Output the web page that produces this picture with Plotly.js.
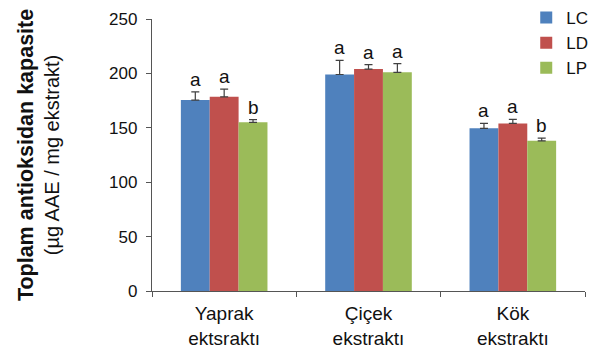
<!DOCTYPE html>
<html>
<head>
<meta charset="utf-8">
<script src="https://cdn.plot.ly/plotly-3.0.1.min.js"></script>
<style>html,body{margin:0;padding:0;background:#fff;}#chart{width:598px;height:350px;}</style>
</head>
<body>
<div id="chart"></div>
<script>
const categories = ["Yaprak<br>ektsraktı", "Çiçek<br>ekstraktı", "Kök<br>ekstraktı"];
const seriesNames = ["LC", "LD", "LP"];
const lcValues = [175.5, 199, 149.5];
const ldValues = [178.5, 204, 154];
const lpValues = [155, 201, 138];
const lcErrors = [7.5, 13, 4.5];
const ldErrors = [7, 4, 3.7];
const lpErrors = [2.5, 8, 2.5];
const lcLetters = ["a", "a", "a"];
const ldLetters = ["a", "a", "a"];
const lpLetters = ["b", "a", "b"];
const yTicks = [0, 50, 100, 150, 200, 250];

const colors = ["#4F81BD", "#C0504D", "#9BBB59"];
const allValues = [lcValues, ldValues, lpValues];
const allErrors = [lcErrors, ldErrors, lpErrors];
const allLetters = [lcLetters, ldLetters, lpLetters];
const FONT = "Liberation Sans, Arial, sans-serif";
const bargap = 0.4;
const barW = (1 - bargap) / seriesNames.length;

const traces = seriesNames.map((name, s) => ({
  type: "bar",
  name: name,
  x: categories,
  y: allValues[s],
  marker: {color: colors[s], line: {width: 0}},
  error_y: {
    type: "data",
    symmetric: false,
    array: allErrors[s],
    arrayminus: allErrors[s].map(() => 0),
    color: "#404040",
    thickness: 1.2,
    width: 4
  },
  hoverinfo: "none"
}));

const annotations = [];
seriesNames.forEach((name, s) => {
  categories.forEach((c, i) => {
    annotations.push({
      xref: "x", yref: "y",
      x: i + (s - (seriesNames.length - 1) / 2) * barW,
      y: allValues[s][i] + allErrors[s][i],
      text: allLetters[s][i],
      showarrow: false,
      yanchor: "bottom",
      yshift: 0,
      font: {family: FONT, size: 19, color: "#111"}
    });
  });
});
annotations.push({
  xref: "paper", yref: "paper",
  x: -0.263, y: 0.5,
  xanchor: "center", yanchor: "middle",
  textangle: -90,
  showarrow: false,
  text: "<span style='font-size:21.5px'><b>Toplam antioksidan kapasite</b></span><br>(µg AAE / mg ekstrakt)",
  font: {family: FONT, size: 20, color: "#111"}
});

const layout = {
  width: 598, height: 350,
  margin: {l: 152, r: 13, t: 19, b: 59, autoexpand: false},
  paper_bgcolor: "#fff", plot_bgcolor: "#fff",
  barmode: "group",
  bargap: bargap,
  bargroupgap: 0,
  showlegend: true,
  legend: {
    xref: "container", yref: "container",
    x: 0.88, y: 1.0, xanchor: "left", yanchor: "top",
    font: {family: FONT, size: 17, color: "#111"},
    bgcolor: "rgba(0,0,0,0)",
    itemwidth: 30,
    tracegroupgap: 0
  },
  xaxis: {
    type: "category",
    showline: true, linecolor: "#555", linewidth: 1.2,
    ticks: "outside", tickson: "boundaries", ticklen: 5, tickcolor: "#555",
    ticklabelstandoff: 5,
    tickfont: {family: FONT, size: 19, color: "#111"},
    showgrid: false, zeroline: false, fixedrange: true
  },
  yaxis: {
    range: [0, 250],
    tickvals: yTicks,
    showline: true, linecolor: "#555", linewidth: 1.2,
    ticks: "outside", ticklen: 5, tickcolor: "#555",
    ticklabelstandoff: 5,
    tickfont: {family: FONT, size: 17, color: "#111"},
    showgrid: false, zeroline: false, fixedrange: true
  },
  annotations: annotations
};

Plotly.newPlot("chart", traces, layout, {staticPlot: true, displayModeBar: false});
</script>
</body>
</html>
